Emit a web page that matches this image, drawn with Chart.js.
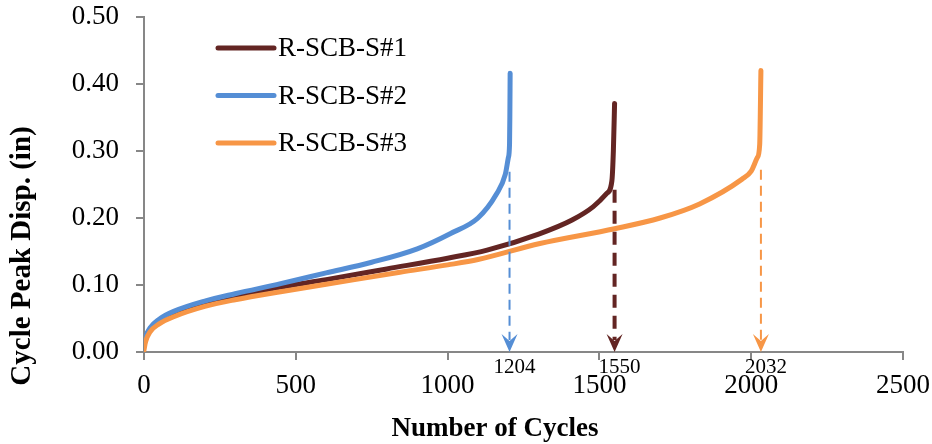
<!DOCTYPE html>
<html>
<head>
<meta charset="utf-8">
<script src="https://cdn.jsdelivr.net/npm/chart.js@4/dist/chart.umd.min.js"></script>
<style>
  html, body { margin: 0; padding: 0; background: #fff; }
  #wrap { width: 932px; height: 444px; }
</style>
</head>
<body>
<div id="wrap"><canvas id="chart"></canvas></div>
<script>
// peak displacement per cycle for the three specimens
const seriesNames = ['R-SCB-S#1', 'R-SCB-S#2', 'R-SCB-S#3']
const seriesColors = ['#632523', '#558ED5', '#F79646']

const s1Cycles = [0, 5, 20, 50, 100, 200, 300, 450, 600, 800, 1000, 1130, 1300, 1410, 1480, 1525, 1541, 1546, 1550]
const s1Disp = [0.010, 0.020, 0.034, 0.047, 0.058, 0.073, 0.083, 0.097, 0.108, 0.124, 0.140, 0.152, 0.176, 0.197, 0.217, 0.237, 0.255, 0.300, 0.371]

const s2Cycles = [0, 5, 20, 50, 100, 200, 300, 450, 600, 750, 900, 1010, 1100, 1160, 1190, 1200, 1204, 1205, 1206]
const s2Disp = [0.008, 0.021, 0.036, 0.049, 0.061, 0.076, 0.087, 0.102, 0.118, 0.134, 0.154, 0.177, 0.200, 0.235, 0.265, 0.290, 0.310, 0.350, 0.416]

const s3Cycles = [0, 5, 20, 50, 100, 200, 300, 450, 600, 843, 1000, 1100, 1304, 1550, 1700, 1830, 1970, 2000, 2020, 2028, 2032]
const s3Disp = [0.003, 0.015, 0.030, 0.042, 0.053, 0.068, 0.078, 0.090, 0.101, 0.119, 0.130, 0.138, 0.162, 0.184, 0.200, 0.221, 0.258, 0.270, 0.290, 0.310, 0.420]

// failure cycle markers (dashed arrows down to the axis)
const failCycles = [1204, 1550, 2032]
const failTop = [0.269, 0.242, 0.272]
const failSeries = [1, 0, 2]

const xTitle = 'Number of Cycles'
const yTitle = 'Cycle Peak Disp. (in)'

function toPoints (xs, ys) {
  return xs.map((x, i) => ({ x: x, y: ys[i] }))
}

const allCycles = [s1Cycles, s2Cycles, s3Cycles]
const allDisp = [s1Disp, s2Disp, s3Disp]
const drawOrder = [2, 1, 0]

const datasets = seriesNames.map((name, i) => ({
  label: name,
  data: toPoints(allCycles[i], allDisp[i]),
  borderColor: seriesColors[i],
  backgroundColor: seriesColors[i],
  borderWidth: 5,
  pointRadius: 0,
  cubicInterpolationMode: 'monotone',
  borderCapStyle: 'round',
  borderJoinStyle: 'round',
  order: drawOrder[i]
}))

const failureArrows = {
  id: 'failureArrows',
  afterDatasetsDraw (chart) {
    const { ctx, scales: { x, y } } = chart
    const bottom = y.getPixelForValue(0)
    failCycles.forEach((c, i) => {
      const color = seriesColors[failSeries[i]]
      const px = x.getPixelForValue(c)
      const top = y.getPixelForValue(failTop[i])
      const thick = failSeries[i] === 0
      ctx.save()
      ctx.strokeStyle = color
      ctx.lineWidth = thick ? 4 : 2
      ctx.setLineDash(thick ? [13, 8] : [10, 6])
      ctx.beginPath()
      ctx.moveTo(px, top)
      ctx.lineTo(px, bottom - 12)
      ctx.stroke()
      ctx.setLineDash([])
      ctx.fillStyle = color
      ctx.beginPath()
      ctx.moveTo(px, bottom)
      ctx.lineTo(px - 8, bottom - 18)
      ctx.lineTo(px, bottom - 11)
      ctx.lineTo(px + 8, bottom - 18)
      ctx.closePath()
      ctx.fill()
      ctx.restore()
    })
  },
  afterDraw (chart) {
    const { ctx, scales: { x, y } } = chart
    const bottom = y.getPixelForValue(0)
    ctx.save()
    ctx.font = '21px "Liberation Serif"'
    ctx.fillStyle = '#000'
    ctx.textAlign = 'center'
    ctx.textBaseline = 'middle'
    failCycles.forEach(c => {
      ctx.fillText(String(c), x.getPixelForValue(c) + 5, bottom + 15)
    })
    ctx.restore()
  }
}

// legend sits inside the plot, upper left
const insideLegend = {
  id: 'insideLegend',
  afterDraw (chart) {
    const { ctx, chartArea } = chart
    const x0 = chartArea.left + 74
    const y0 = chartArea.top + 31
    ctx.save()
    ctx.font = '27px "Liberation Serif"'
    ctx.textBaseline = 'middle'
    ctx.lineCap = 'round'
    ctx.lineWidth = 5
    seriesNames.forEach((name, i) => {
      const yy = y0 + i * 47.5
      ctx.strokeStyle = seriesColors[i]
      ctx.beginPath()
      ctx.moveTo(x0, yy)
      ctx.lineTo(x0 + 56, yy)
      ctx.stroke()
      ctx.fillStyle = '#000'
      ctx.fillText(name, x0 + 60, yy + 1)
    })
    ctx.restore()
  }
}

const axisTitles = {
  id: 'axisTitles',
  afterDraw (chart) {
    const { ctx } = chart
    ctx.save()
    ctx.fillStyle = '#000'
    ctx.textAlign = 'center'
    ctx.textBaseline = 'middle'
    ctx.font = 'bold 27px "Liberation Serif"'
    ctx.fillText(xTitle, 495, 429)
    ctx.translate(23, 256)
    ctx.rotate(-Math.PI / 2)
    ctx.font = 'bold 29px "Liberation Serif"'
    ctx.fillText(yTitle, 0, 0)
    ctx.restore()
  }
}

const axisGray = '#878787'

new Chart(document.getElementById('chart'), {
  type: 'line',
  data: { datasets: datasets },
  options: {
    responsive: true,
    maintainAspectRatio: false,
    animation: false,
    layout: { padding: { top: 17, right: 29, left: 0, bottom: 0 } },
    scales: {
      x: {
        type: 'linear',
        min: 0,
        max: 2500,
        afterFit: scale => {
          scale.height = 92
          scale.paddingLeft = 0
          scale.paddingRight = 0
        },
        border: { color: axisGray, width: 2 },
        grid: { drawOnChartArea: false, drawTicks: true, tickLength: 8, color: axisGray, lineWidth: 2 },
        ticks: {
          stepSize: 500,
          maxRotation: 0,
          padding: 10,
          color: '#000',
          font: { family: '"Liberation Serif"', size: 27 },
          callback: v => String(v)
        }
      },
      y: {
        min: 0,
        max: 0.5,
        afterFit: scale => {
          scale.width = 144
          scale.paddingTop = 0
          scale.paddingBottom = 0
        },
        border: { color: axisGray, width: 2 },
        grid: { drawOnChartArea: false, drawTicks: true, tickLength: 8, color: axisGray, lineWidth: 2 },
        ticks: {
          stepSize: 0.1,
          padding: 17,
          color: '#000',
          font: { family: '"Liberation Serif"', size: 27 },
          callback: v => v.toFixed(2)
        }
      }
    },
    plugins: {
      legend: { display: false },
      tooltip: { enabled: false }
    }
  },
  plugins: [failureArrows, insideLegend, axisTitles]
})
</script>
</body>
</html>
